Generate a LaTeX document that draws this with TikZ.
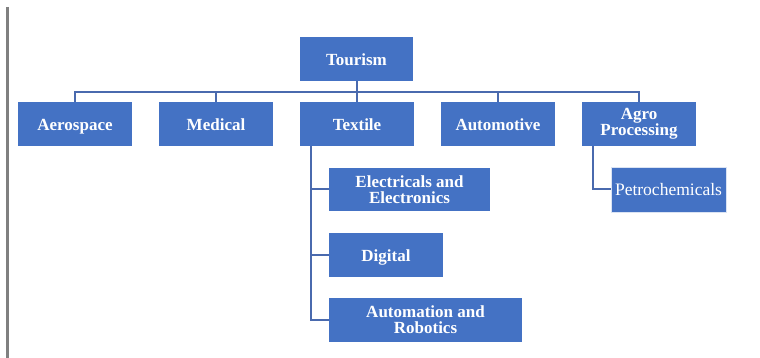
\documentclass[tikz,border=0pt]{standalone}
\usepackage{fontspec}
\setmainfont{Liberation Serif}
\definecolor{boxblue}{HTML}{4472C4}
\definecolor{lineblue}{HTML}{4A6AAE}
\begin{document}
\begin{tikzpicture}[x=1pt,y=-1pt,
  box/.style={fill=boxblue,draw=none,text=white,font=\fontsize{17}{16}\selectfont\bfseries,align=center,inner sep=0pt},
  one/.style={text height=16pt,text depth=3pt},
  conn/.style={draw=lineblue,line width=2pt}]
\useasboundingbox[fill=white] (0,0) rectangle (760,358);
\draw[black!50,line width=2.5pt] (7.5,7) -- (7.5,358);
\node[box,one,minimum width=113pt,minimum height=44pt] (tour) at (356.5,59) {Tourism};
\node[box,one,minimum width=114pt,minimum height=44pt] (aero) at (75,124) {Aerospace};
\node[box,one,minimum width=114pt,minimum height=44pt] (med) at (216,124) {Medical};
\node[box,one,minimum width=114pt,minimum height=44pt] (tex) at (357,124) {Textile};
\node[box,one,minimum width=114pt,minimum height=44pt] (auto) at (498,124) {Automotive};
\node[box,minimum width=114pt,minimum height=44pt] (agro) at (639,124) {Agro\\Processing};
\node[box,minimum width=161pt,minimum height=43pt] (elec) at (409.5,189.5) {Electricals and\\Electronics};
\node[box,one,minimum width=114pt,minimum height=44pt] (dig) at (386,255) {Digital};
\node[box,minimum width=193pt,minimum height=44pt] (autom) at (425.5,320) {Automation and\\Robotics};
\node[box,one,minimum width=115pt,minimum height=45pt,draw=white!80!boxblue,line width=0.8pt,font=\fontsize{17.5}{17}\selectfont] (petro) at (668.5,189.5) {Petrochemicals};
\coordinate (bus) at (0,92);
\draw[conn] (tour.south) -- (tour.south |- bus);
\draw[conn] (aero.north) -- (aero.north |- bus) -- (agro.north |- bus) -- (agro.north);
\foreach \n in {med,tex,auto} \draw[conn] (\n.north) -- (\n.north |- bus);
\coordinate (tx) at (311,0);
\draw[conn] (tx |- tex.south) -- (tx |- autom.west) -- (autom.west);
\draw[conn] (tx |- elec.west) -- (elec.west);
\draw[conn] (tx |- dig.west) -- (dig.west);
\coordinate (ax) at (593,0);
\draw[conn] (ax |- agro.south) -- (ax |- petro.west) -- (petro.west);
\end{tikzpicture}
\end{document}
